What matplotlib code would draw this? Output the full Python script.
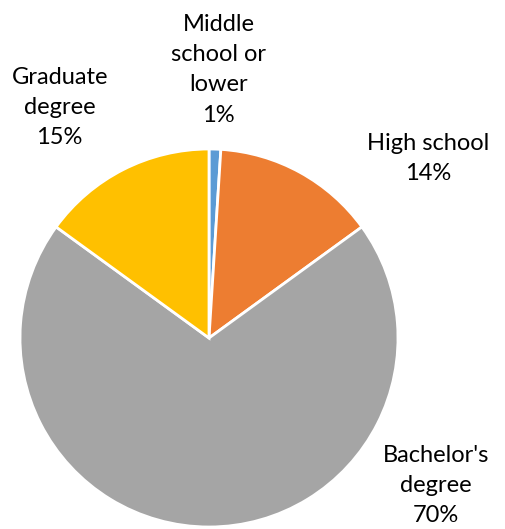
import matplotlib
matplotlib.use("Agg")
import matplotlib.pyplot as plt

plt.rcParams["font.family"] = ["Lato", "DejaVu Sans"]

labels = ["Middle\nschool or\nlower", "High school", "Bachelor's\ndegree", "Graduate\ndegree"]
shares = [1, 14, 70, 15]
colors = ["#5B9BD5", "#ED7D31", "#A5A5A5", "#FFC000"]

# label anchor points in pie-radius units (centre = 0,0)
label_pos = [(0.05, 1.42), (1.16, 0.95), (1.20, -0.78), (-0.79, 1.22)]

fig = plt.figure(figsize=(5.05, 5.29), dpi=100)
ax = fig.add_axes([0, 0, 1, 1])

wedges, _ = ax.pie(shares, colors=colors, startangle=90, counterclock=False,
                   radius=1.0, wedgeprops=dict(edgecolor="white", linewidth=2))

for lab, val, (x, y) in zip(labels, shares, label_pos):
    ax.text(x, y, f"{lab}\n{val}%", ha="center", va="center",
            fontsize=17, color="#000000", linespacing=1.55)

ax.set_xlim(-209 / 189, 296 / 189)
ax.set_ylim((338 - 529) / 189, 338 / 189)
ax.set_aspect("equal", adjustable="datalim")
ax.axis("off")

fig.savefig("out.png", dpi=100, facecolor="white")
